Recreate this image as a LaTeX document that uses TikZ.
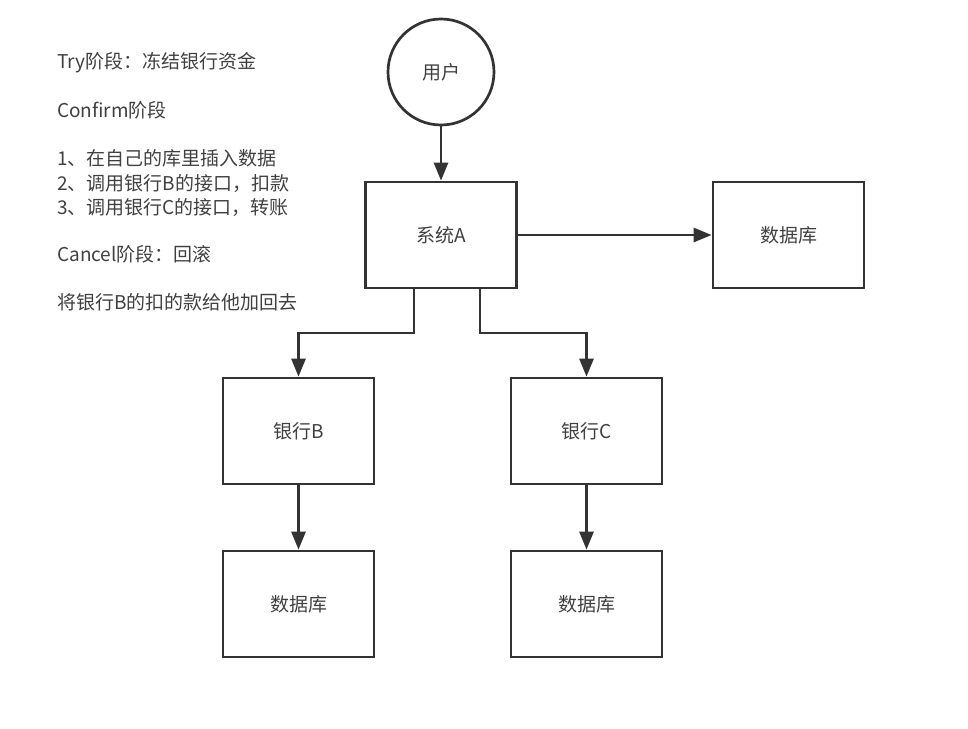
\documentclass[tikz,border=0pt]{standalone}
\usepackage{fontspec}
\setmainfont{Noto Sans CJK SC}
\usetikzlibrary{arrows.meta,positioning}
\definecolor{ink}{HTML}{333333}
\definecolor{txt}{HTML}{404040}
\tikzset{
  box/.style={draw=ink,line width=2.7pt,minimum width=151pt,minimum height=106pt,inner sep=0pt,text=txt,font=\fontsize{19}{22}\selectfont},
  usr/.style={draw=ink,line width=2.7pt,circle,minimum size=106pt,inner sep=0pt,text=txt,font=\fontsize{19}{22}\selectfont},
  conn/.style={draw=ink,line width=2.7pt,-{Triangle[length=18pt,width=14pt]}},
  note/.style={anchor=west,inner sep=0pt,text=txt,font=\fontsize{19}{22}\selectfont}
}
\begin{document}
\begin{tikzpicture}[x=1pt,y=-1pt]
\useasboundingbox (0,0) rectangle (968,728);
\node[note] (t1) at (57,63) {Try阶段：冻结银行资金};
\node[note] (t2) at (57,110) {Confirm阶段};
\node[note] (t3) at (57,158) {1、在自己的库里插入数据};
\node[note] (t4) at (57,183) {2、调用银行B的接口，扣款};
\node[note] (t5) at (57,207) {3、调用银行C的接口，转账};
\node[note] (t6) at (57,254) {Cancel阶段：回滚};
\node[note] (t7) at (57,302) {将银行B的扣的款给他加回去};

\node[usr] (user) at (441,72) {用户};
\node[box] (sysA) at (441,235) {系统A};
\node[box] (db0) at (788.5,235) {数据库};
\node[box] (bankB) at (298.5,431) {银行B};
\node[box] (bankC) at (586.5,431) {银行C};
\node[box] (dbB) at (298.5,604) {数据库};
\node[box] (dbC) at (586.5,604) {数据库};

\draw[conn] (user) -- (sysA);
\draw[conn] (sysA) -- (db0);
\coordinate (jB) at (414,333);
\coordinate (jC) at (480,333);
\draw[conn] (sysA.south -| jB) -- (jB) -| (bankB.north);
\draw[conn] (sysA.south -| jC) -- (jC) -| (bankC.north);
\draw[conn] (bankB) -- (dbB);
\draw[conn] (bankC) -- (dbC);
\end{tikzpicture}
\end{document}
